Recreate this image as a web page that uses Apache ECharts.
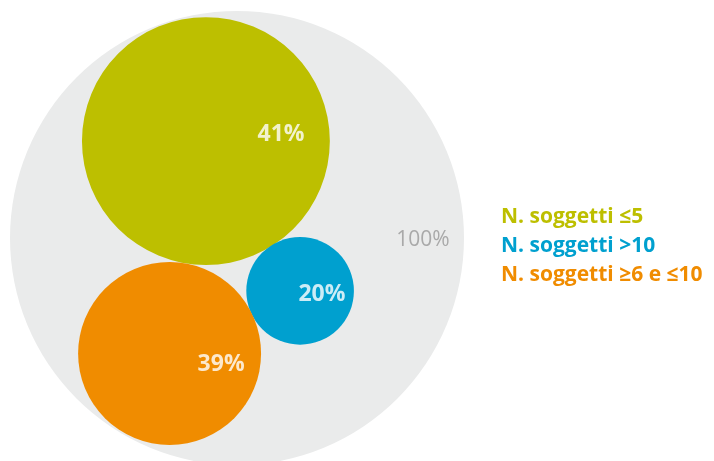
<!DOCTYPE html>
<html>
<head>
<meta charset="utf-8">
<script src="https://cdn.jsdelivr.net/npm/echarts@6/dist/echarts.min.js"></script>
<style>html,body{margin:0;padding:0;background:#fff}#c{width:714px;height:461px}</style>
</head>
<body>
<div id="c"></div>
<script>
// Categories and values
const categories = ['N. soggetti ≤5', 'N. soggetti >10', 'N. soggetti ≥6 e ≤10'];
const percents = ['41%', '20%', '39%'];
const totalLabel = '100%';
// Bubble centres (x, y) and radii in abstract chart units (total circle = radius 100)
const bubbleX = [-13.7, 27.8, -29.7];
const bubbleY = [42.7, -23.3, -50.9];
const bubbleR = [54.6, 23.7, 40.3];
const totalBubble = [0, 0, 100];
// Label anchors in chart units
const labelX = [19.4, 37.4, -7.0];
const labelY = [45.5, -25.0, -55.9];
const totalLabelPos = [81.9, -0.8];

const colors = ['#BDBF00', '#00A0CF', '#F08C00'];
const greyColor = '#EAEBEB';

function renderCircle(params, api) {
  const c = api.coord([api.value(0), api.value(1)]);
  const s = api.size([api.value(2), api.value(2)]);
  return { type: 'circle', shape: { cx: c[0], cy: c[1], r: s[0] }, style: { fill: api.visual('color') } };
}

const series = [{
  type: 'custom', name: 'total', renderItem: renderCircle, clip: false,
  itemStyle: { color: greyColor }, encode: { x: 0, y: 1 },
  data: [totalBubble], z: 1
}];
categories.forEach((cat, i) => {
  series.push({
    type: 'custom', name: cat, renderItem: renderCircle, clip: false,
    itemStyle: { color: colors[i] }, encode: { x: 0, y: 1 },
    data: [[bubbleX[i], bubbleY[i], bubbleR[i]]], z: 2
  });
});
series.push({
  type: 'scatter', name: 'labels', symbolSize: 0, z: 5, clip: false,
  data: percents.map((p, i) => [labelX[i], labelY[i], p]),
  label: { show: true, position: 'inside', formatter: p => p.value[2],
    color: '#fff', fontFamily: 'Open Sans', fontWeight: 'bold', fontSize: 23 }
});
series.push({
  type: 'scatter', name: 'totalLabel', symbolSize: 0, z: 5, clip: false,
  data: [[totalLabelPos[0], totalLabelPos[1], totalLabel]],
  label: { show: true, position: 'inside', formatter: p => p.value[2],
    color: '#999999', fontFamily: 'Open Sans', fontSize: 21 }
});

const chart = echarts.init(document.getElementById('c'), null, { renderer: 'canvas' });
chart.setOption({
  animation: false,
  grid: { left: 10, top: 11, width: 454, bottom: 0 },
  xAxis: { type: 'value', min: -100, max: 100, show: false },
  yAxis: { type: 'value', min: -98.24, max: 100, show: false },
  legend: {
    orient: 'vertical', left: 491, top: 201, itemWidth: 0, itemHeight: 0, itemGap: 7,
    selectedMode: false,
    data: categories.map((c, i) => ({ name: c, icon: 'rect', itemStyle: { opacity: 0 },
      textStyle: { color: colors[i] } })),
    textStyle: { fontFamily: 'Open Sans', fontWeight: 'bold', fontSize: 21, lineHeight: 22 }
  },
  series: series
});
</script>
</body>
</html>
